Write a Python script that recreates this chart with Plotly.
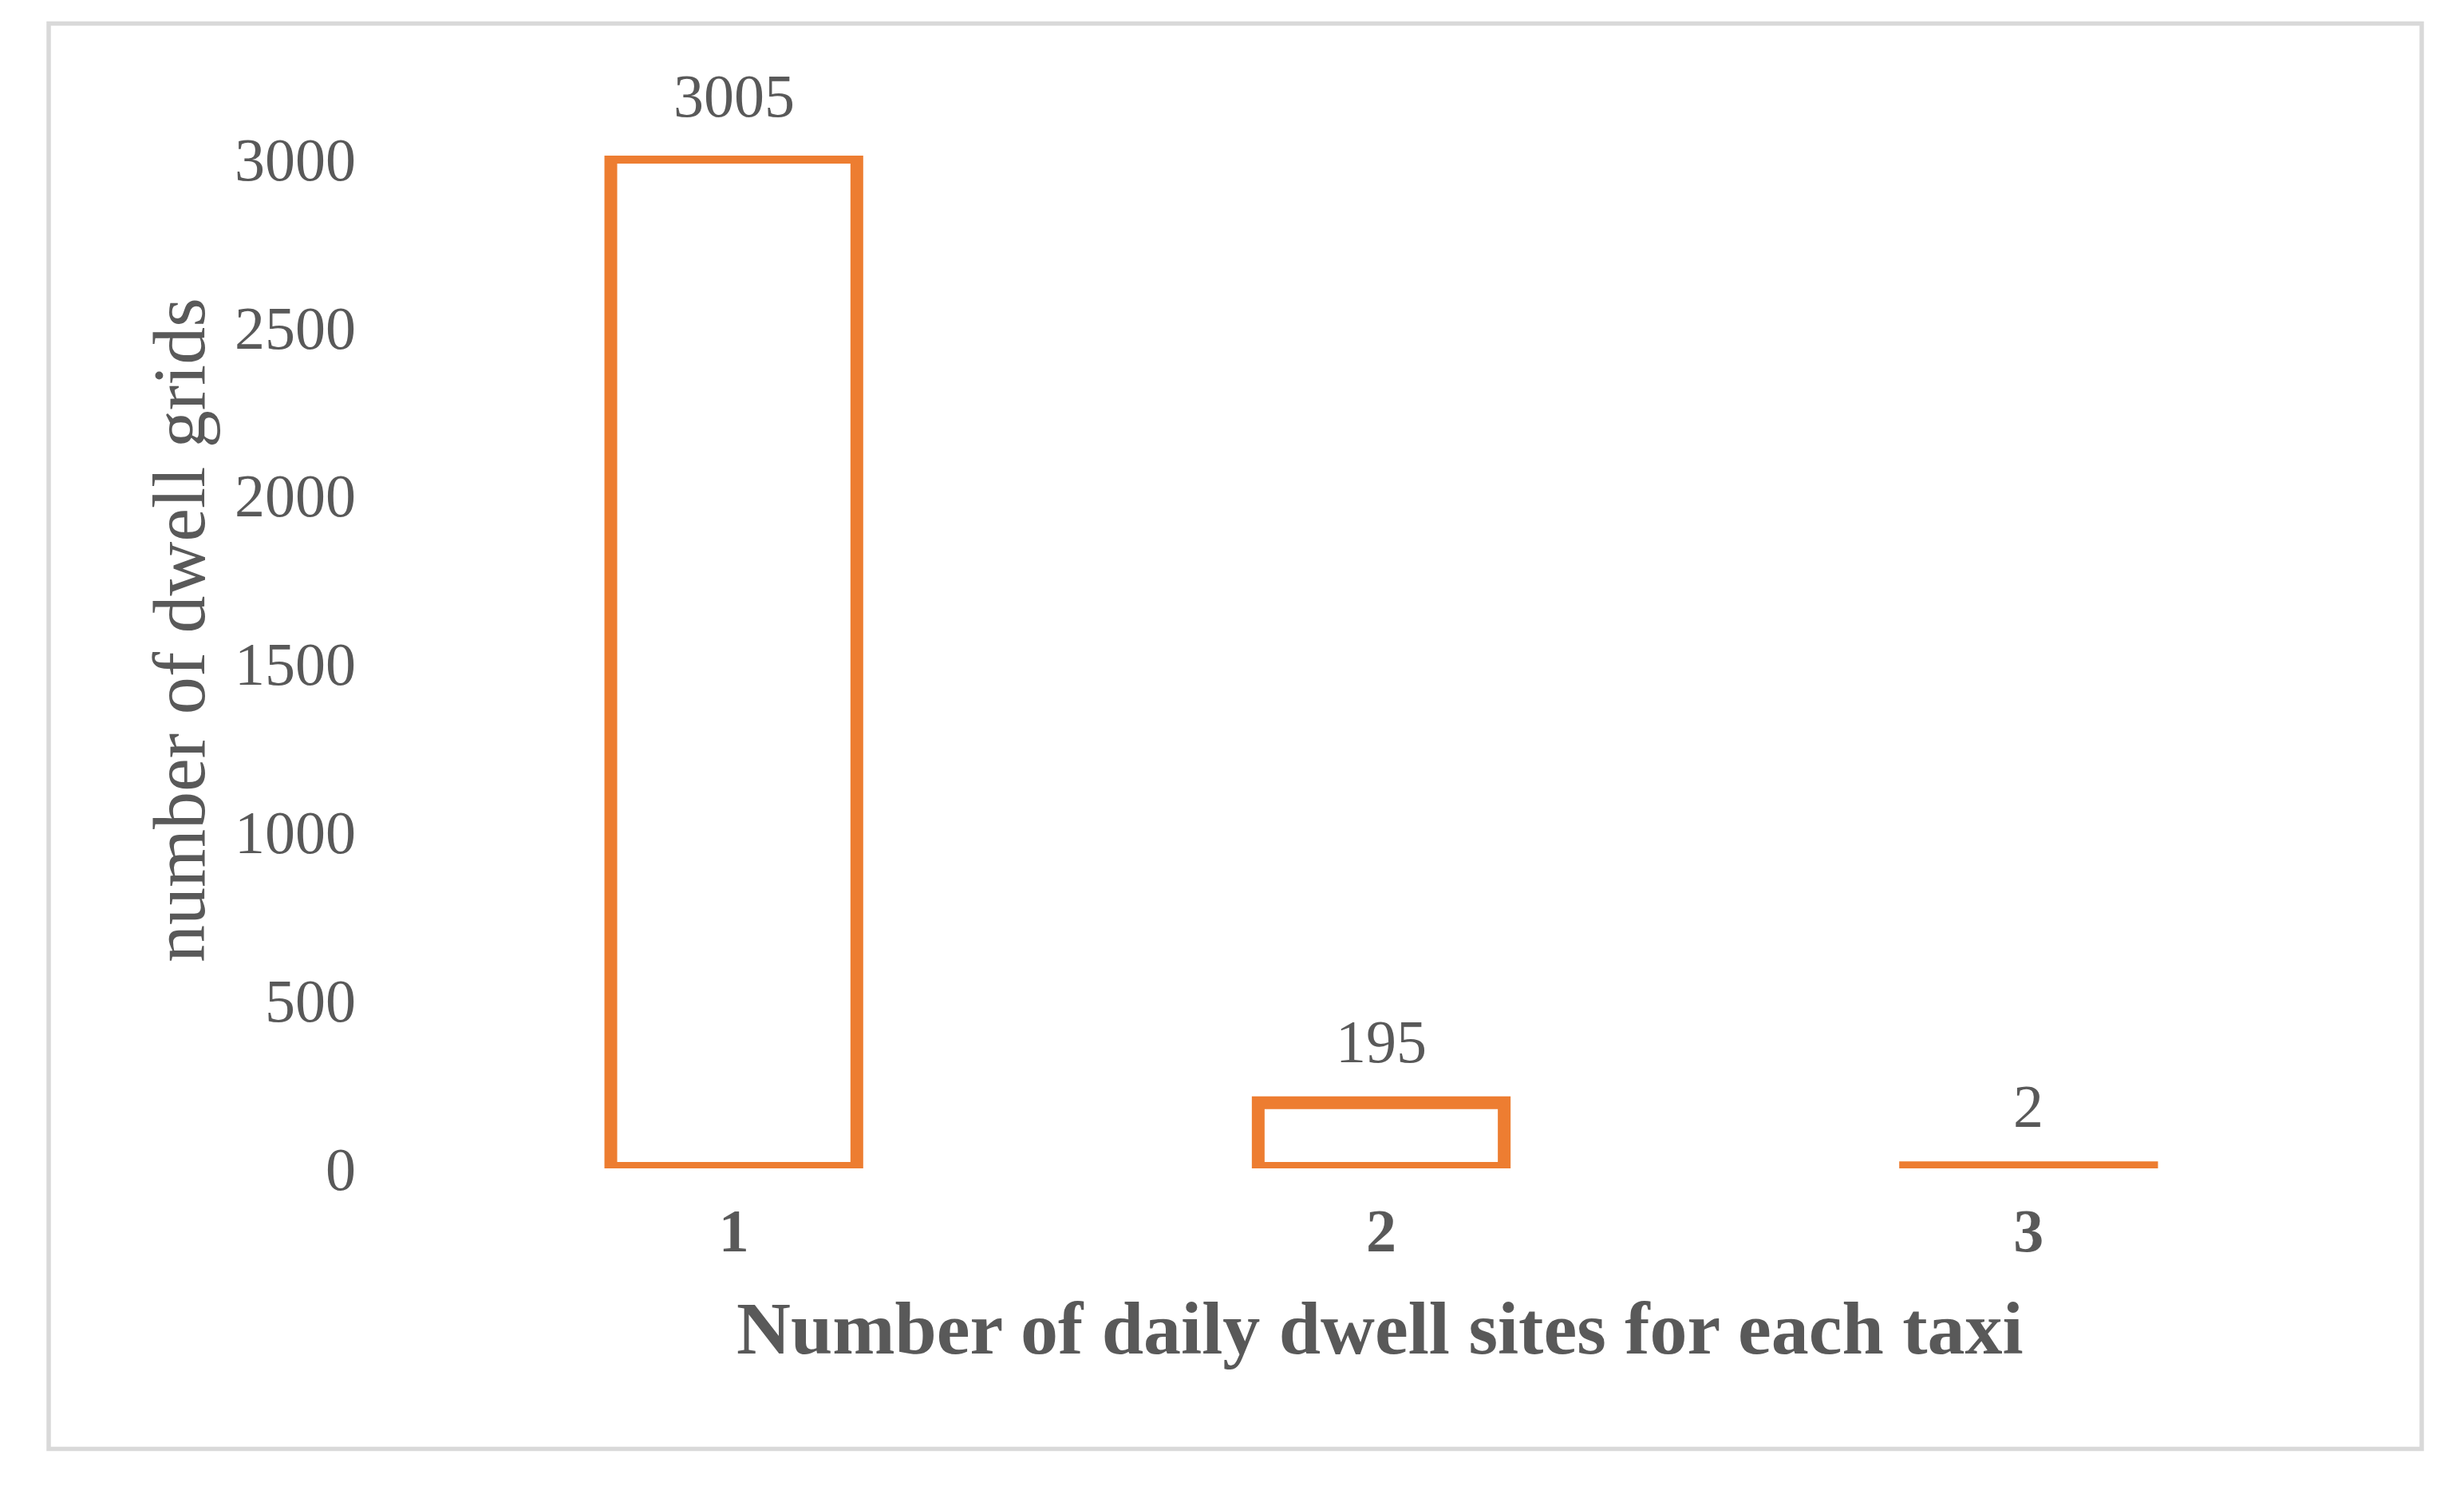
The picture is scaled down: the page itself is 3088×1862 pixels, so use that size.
import plotly.graph_objects as go

categories = ["1", "2", "3"]
values = [3005, 195, 2]
value_labels = ["3005", "195", "2"]
y_ticks = [0, 500, 1000, 1500, 2000, 2500, 3000]
x_title = "Number of daily dwell sites for each taxi"
y_title = "number of dwell grids"

W, H = 3088, 1862
L, R, T, B = 514, 140, 195, 398
pw, ph = W - L - R, H - T - B

def px_x(p):
    return (p - L) / pw

def px_y(p):
    return (H - B - p) / ph

orange = "#ED7D31"
grey = "#595959"
font_family = "Liberation Serif, Times New Roman, serif"

fig = go.Figure()
fig.add_trace(go.Bar(
    x=categories, y=values,
    marker=dict(color="white", line=dict(color=orange, width=16)),
    width=0.38, cliponaxis=False, showlegend=False, hoverinfo="x+y",
))

for i, (v, t) in enumerate(zip(values, value_labels)):
    fig.add_annotation(x=i, y=v, xref="x", yref="y", text=t, showarrow=False,
                       yanchor="middle", yshift=77,
                       font=dict(family=font_family, size=76, color=grey))

fig.add_annotation(x=px_x(1729), y=px_y(1664), xref="paper", yref="paper",
                   text="<b>" + x_title + "</b>", showarrow=False,
                   xanchor="center", yanchor="middle",
                   font=dict(family=font_family, size=94, color=grey))
fig.add_annotation(x=px_x(224), y=px_y(790), xref="paper", yref="paper",
                   text=y_title, showarrow=False, textangle=-90,
                   xanchor="center", yanchor="middle",
                   font=dict(family=font_family, size=94, color=grey))

fig.update_layout(
    width=W, height=H,
    margin=dict(l=L, r=R, t=T, b=B),
    paper_bgcolor="white", plot_bgcolor="white",
    font=dict(family=font_family, color=grey),
    xaxis=dict(
        type="category", range=[-0.5, len(categories) - 0.5],
        showgrid=False, showline=False, zeroline=False,
        tickfont=dict(family=font_family, size=76, color=grey, weight="bold"),
        ticks="", ticklabelstandoff=27,
    ),
    yaxis=dict(
        range=[0, 3010], tickvals=y_ticks, showgrid=False, showline=False, zeroline=False,
        tickfont=dict(family=font_family, size=76, color=grey),
        ticks="", ticklabelstandoff=67,
    ),
)

fig.add_shape(type="rect", xref="paper", yref="paper",
              x0=px_x(61), x1=px_x(3035), y0=px_y(1815.5), y1=px_y(29.5),
              line=dict(color="#D9D9D9", width=5.5), fillcolor="rgba(0,0,0,0)", layer="below")

fig.write_html("out.html", config={"displayModeBar": False},
               post_script="document.body.style.margin='0';document.body.style.overflow='hidden';")
